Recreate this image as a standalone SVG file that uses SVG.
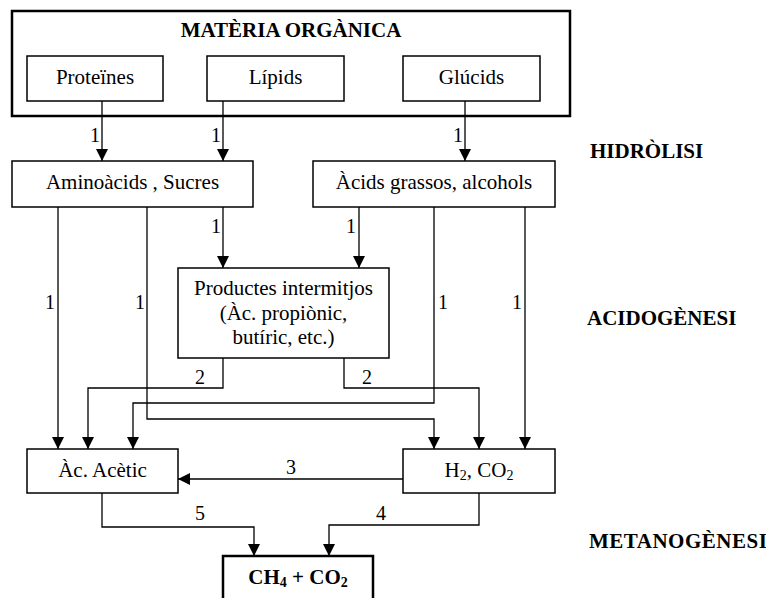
<svg xmlns="http://www.w3.org/2000/svg" width="766" height="598" viewBox="0 0 766 598">
<style>
.box{fill:#fff;stroke:#000;stroke-width:1.5}
.thick{fill:none;stroke:#000;stroke-width:2.5}
.t{font-family:"Liberation Serif","Times New Roman",serif;font-size:21px;fill:#000;text-anchor:middle}
.b{font-family:"Liberation Serif","Times New Roman",serif;font-size:21px;font-weight:bold;fill:#000}
.c{fill:none;stroke:#000;stroke-width:1.3;marker-end:url(#ah)}
.n{font-family:"Liberation Serif","Times New Roman",serif;font-size:20px;fill:#000}
</style>
<defs>
<marker id="ah" markerUnits="userSpaceOnUse" markerWidth="12" markerHeight="12" refX="12" refY="6" orient="auto">
<path d="M0,0 L12,6 L0,12 z" fill="#000"/>
</marker>
</defs>
<rect width="766" height="598" fill="#fff"/>
<g id="materia">
<rect x="12" y="11" width="558" height="105" class="thick"/>
<text x="291" y="37" class="b" text-anchor="middle">MATÈRIA ORGÀNICA</text>
</g>
<g id="proteines"><rect x="27" y="56" width="136" height="45" class="box"/><text x="95" y="84" class="t">Proteïnes</text></g>
<g id="lipids"><rect x="207" y="56" width="137" height="45" class="box"/><text x="275.5" y="84" class="t">Lípids</text></g>
<g id="glucids"><rect x="403" y="56" width="137" height="45" class="box"/><text x="471.5" y="84" class="t">Glúcids</text></g>
<g id="aminoacids"><rect x="12" y="161" width="241" height="46" class="box"/><text x="132.5" y="189" class="t">Aminoàcids , Sucres</text></g>
<g id="acids"><rect x="313" y="161" width="242" height="46" class="box"/><text x="434" y="189" class="t">Àcids grassos, alcohols</text></g>
<g id="productes"><rect x="178" y="268" width="211" height="90" class="box"/>
<text x="283.5" y="295" class="t">Productes intermitjos</text>
<text x="283.5" y="320" class="t">(Àc. propiònic,</text>
<text x="283.5" y="344" class="t">butíric, etc.)</text></g>
<g id="acetic"><rect x="27" y="449" width="151" height="44" class="box"/><text x="102.5" y="477" class="t">Àc. Acètic</text></g>
<g id="h2co2"><rect x="403" y="449" width="152" height="44" class="box"/><text x="479" y="477" class="t">H<tspan font-size="14" dy="3">2</tspan><tspan dy="-3">, CO</tspan><tspan font-size="14" dy="3">2</tspan></text></g>
<g id="ch4"><rect x="223" y="556" width="150" height="50" class="thick"/><text x="298" y="584" class="b" text-anchor="middle">CH<tspan font-size="14" dy="3">4</tspan><tspan dy="-3"> + CO</tspan><tspan font-size="14" dy="3">2</tspan></text></g>
<g id="stages">
<text x="590" y="158" class="b">HIDRÒLISI</text>
<text x="587" y="325" class="b">ACIDOGÈNESI</text>
<text x="589" y="548" class="b" letter-spacing="0.5">METANOGÈNESI</text>
</g>
<g id="connectors">
<path class="c" d="M102 101 V161"/>
<path class="c" d="M223 101 V161"/>
<path class="c" d="M465 101 V161"/>
<path class="c" d="M223 207 V268"/>
<path class="c" d="M359 207 V268"/>
<path class="c" d="M58 207 V449"/>
<path class="c" d="M147 207 V419 H434 V449"/>
<path class="c" d="M434 207 V403 H133 V449"/>
<path class="c" d="M525 207 V449"/>
<path class="c" d="M223 358 V388 H88 V449"/>
<path class="c" d="M344 358 V388 H479 V449"/>
<path class="c" d="M403 479 H178"/>
<path class="c" d="M102 493 V527 H254 V556"/>
<path class="c" d="M479 493 V525 H329 V556"/>
<g class="n">
<text x="90" y="142">1</text>
<text x="211" y="142">1</text>
<text x="453" y="142">1</text>
<text x="211" y="233">1</text>
<text x="346" y="233">1</text>
<text x="45" y="309">1</text>
<text x="135" y="309">1</text>
<text x="438" y="309">1</text>
<text x="512" y="309">1</text>
<text x="195" y="384">2</text>
<text x="362" y="384">2</text>
<text x="286" y="474">3</text>
<text x="195" y="520">5</text>
<text x="376" y="520">4</text>
</g>
</g>
</svg>
